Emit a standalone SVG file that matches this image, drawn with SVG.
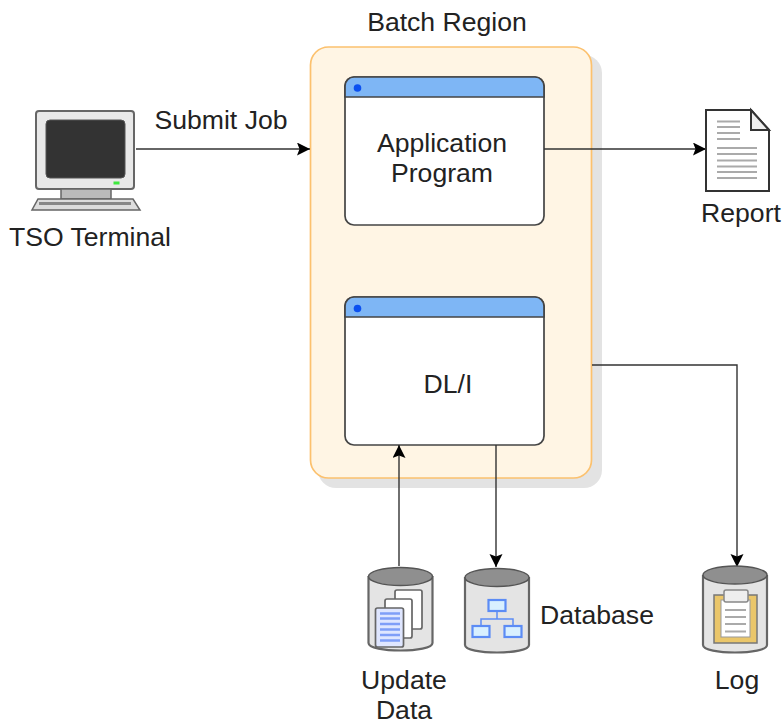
<svg xmlns="http://www.w3.org/2000/svg" width="784" height="725" viewBox="0 0 784 725">
<style>
text{font-family:"Liberation Sans",Arial,sans-serif;font-size:26.600px;fill:#222;text-anchor:middle}
.c{fill:none;stroke:#333;stroke-width:1.400}
.body{fill:#e4e4e4;stroke:#666;stroke-width:2.200}
.top{fill:#8f8f8f;stroke:#555;stroke-width:1.500}
.win{fill:#fff;stroke:#444;stroke-width:1.700}
.bar{fill:#7eb6f5;stroke:#444;stroke-width:1.700}
.dot{fill:#0b50f0}
.ln{stroke:#aaa;stroke-width:1.800}
.bl{fill:#d8f0ff;stroke:#5c8cf5;stroke-width:2.200}
.blw{fill:none;stroke:#5c8cf5;stroke-width:1.500}
.pg{fill:#fff;stroke:#666;stroke-width:1.700}
</style>
<defs>
<marker id="a" markerUnits="userSpaceOnUse" markerWidth="14" markerHeight="14" refX="13" refY="6.500" orient="auto"><path d="M0 0L13 6.500L0 13L2.500 6.500Z" fill="#000"/></marker>
</defs>
<g id="region">
<rect x="318" y="55" width="284" height="433" rx="18" fill="#e3e3e3"/>
<rect x="310.500" y="47" width="281" height="431" rx="18" fill="#fff5e4" stroke="#fcc16e" stroke-width="1.700"/>
<text x="447" y="31">Batch Region</text>
</g>
<g id="app">
<rect class="win" x="345" y="77" width="199" height="148" rx="9"/>
<path class="bar" d="M345 97V86a9 9 0 0 1 9-9H535a9 9 0 0 1 9 9V97Z"/>
<circle class="dot" cx="357.500" cy="88" r="3.800"/>
<text x="442" y="152">Application</text>
<text x="442" y="182">Program</text>
</g>
<g id="dli">
<rect class="win" x="345" y="297" width="199" height="148" rx="9"/>
<path class="bar" d="M345 317V306a9 9 0 0 1 9-9H535a9 9 0 0 1 9 9V317Z"/>
<circle class="dot" cx="357.500" cy="308.500" r="3.800"/>
<text x="448" y="393">DL/I</text>
</g>
<g id="connectors">
<path class="c" d="M136 149H310" marker-end="url(#a)"/>
<path class="c" d="M544 149H706" marker-end="url(#a)"/>
<path class="c" d="M592 365H737V567" marker-end="url(#a)"/>
<path class="c" d="M399 566V445" marker-end="url(#a)"/>
<path class="c" d="M496 445V567" marker-end="url(#a)"/>
</g>
<text x="221" y="129">Submit Job</text>
<g id="terminal">
<rect x="36" y="111" width="98" height="78" rx="3" fill="#e8e8e8" stroke="#666" stroke-width="2"/>
<rect x="46" y="120" width="79" height="58" rx="4" fill="#333" stroke="#555"/>
<rect x="113.500" y="181.500" width="6" height="3" fill="#3de83d"/>
<rect x="61" y="189" width="50" height="10" fill="#bbb" stroke="#666" stroke-width="1.500"/>
<path d="M38 199H133L140 210H32Z" fill="#ddd" stroke="#666" stroke-width="1.500"/>
<path d="M39 203.500H131" stroke="#888" stroke-width="3"/>
<text x="90" y="246">TSO Terminal</text>
</g>
<g id="report">
<path d="M706 110H751L769 130V191H706Z" fill="#fff" stroke="#333" stroke-width="2"/>
<path d="M751 110L769 130H751Z" fill="#eee" stroke="#333" stroke-width="2"/>
<path class="ln" d="M717 121.500H740M717 127H740M717 133H740M717 139H740M717 148H757M717 154H757M717 160.500H757M717 166.500H757M717 172H757M717 178H757"/>
<text x="741" y="222">Report</text>
</g>
<g id="update">
<path class="body" d="M368.500 576V643C368.500 653 432.500 653 432.500 643V576"/>
<ellipse class="top" cx="400.500" cy="576.500" rx="32" ry="9"/>
<rect class="pg" x="395" y="590" width="27" height="39" rx="2"/>
<rect class="pg" x="385" y="599" width="27" height="39" rx="2"/>
<rect x="375.500" y="608" width="28" height="39" rx="2" fill="#dfe6ff" stroke="#666" stroke-width="1.700"/>
<path d="M380 613.500H400M380 618.500H400M380 624H400M380 629.500H400M380 635H400M380 640.500H400" stroke="#7f9ef8" stroke-width="2.400"/>
<text x="404" y="689">Update</text>
<text x="404" y="719">Data</text>
</g>
<g id="database">
<path class="body" d="M465 577V645C465 655 529 655 529 645V577"/>
<ellipse class="top" cx="497" cy="577.500" rx="32" ry="9"/>
<path class="blw" d="M497 612V619M481 628V619H513V628"/>
<rect class="bl" x="488.500" y="600" width="17" height="11"/>
<rect class="bl" x="472.500" y="626" width="17" height="11"/>
<rect class="bl" x="504.500" y="626" width="17" height="11"/>
<text x="597" y="624">Database</text>
</g>
<g id="log">
<path class="body" d="M703 575V645C703 655 767 655 767 645V575"/>
<ellipse class="top" cx="735" cy="575" rx="32" ry="9"/>
<rect x="714" y="595" width="43" height="48" fill="#eac66a" stroke="#777" stroke-width="1.500"/>
<rect x="721" y="600" width="29" height="37" fill="#fff" stroke="#999"/>
<rect x="724" y="590" width="24" height="12" rx="2" fill="#eee" stroke="#888" stroke-width="1.500"/>
<path class="ln" d="M725 610H746M725 617H746M725 624H746M725 631.500H746"/>
<text x="737" y="689">Log</text>
</g>
</svg>
